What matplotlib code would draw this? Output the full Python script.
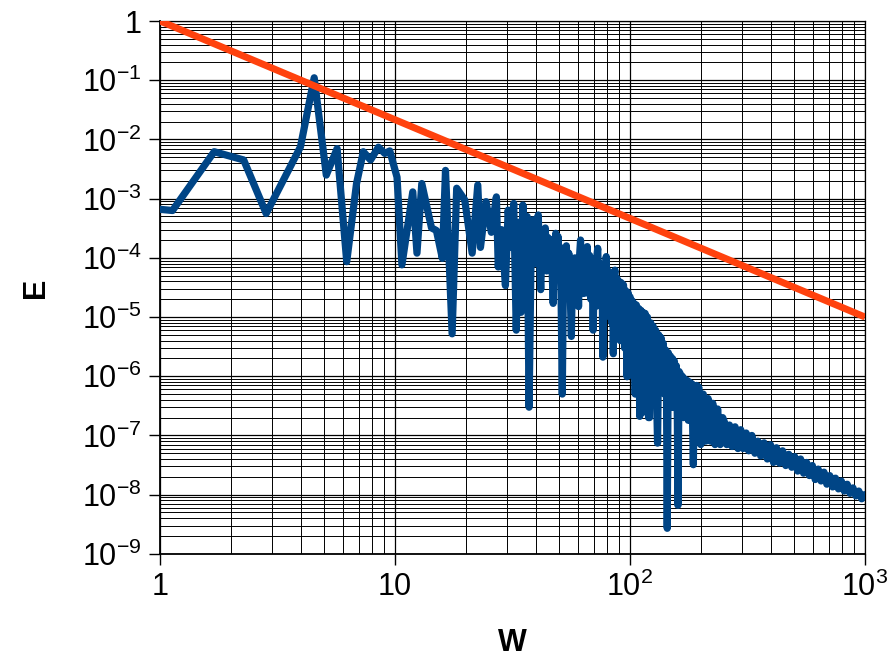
import numpy as np
import matplotlib
matplotlib.use('Agg')
import matplotlib.pyplot as plt
from matplotlib.ticker import FixedLocator, LogLocator, NullFormatter

plt.rcParams['font.family'] = ['Liberation Sans', 'DejaVu Sans']
plt.rcParams['mathtext.fontset'] = 'custom'
plt.rcParams['mathtext.rm'] = 'Liberation Sans'

# spectrum (W, E)
w = [1.0, 1.13, 1.70, 2.27, 2.83, 3.96, 4.53, 5.10, 5.67, 6.23, 6.86, 7.33, 7.87, 8.5, 9.05, 9.5,
     10.2, 10.7, 11.9, 12.4, 13.0, 14.3, 15.0, 15.9, 16.4, 17.5, 18.3, 19.8, 21.3, 22.5, 23.1,
     24.4, 25.7, 27.0, 27.5, 28.4, 29.5, 30.3, 31.2, 32.0, 32.8, 33.6, 34.4, 35.0, 35.8, 36.5,
     37.2, 38.0, 38.7, 39.3, 40.0, 40.7, 41.2, 41.7, 42.3, 43.0, 43.6, 44.2, 44.8, 45.5, 46.2,
     47.1, 47.7, 48.3, 48.8, 49.4, 50.0, 50.6, 51.5, 52.2, 52.9, 53.6, 54.2, 54.9, 55.6, 56.3,
     57.0, 57.6, 58.3, 59.0, 59.7, 60.4, 61.1, 61.6, 62.3, 63.0, 63.7, 64.4, 65.1, 65.8, 66.5,
     67.3, 68.1, 68.9, 69.7, 70.5, 71.3, 72.1, 72.9, 73.7, 74.5, 75.3, 76.0, 76.7, 77.5, 78.3,
     79.2, 80.0, 80.9, 81.8, 82.7, 83.6, 84.5, 84.9, 85.6, 86.3, 87.2, 88.1, 89.0, 89.9, 90.8,
     91.8, 92.8, 93.8, 94.8, 95.8, 97.1, 98.0, 99.0, 100, 101, 102, 103, 104, 105.2, 106.4,
     107.6, 108.8, 110, 111.2, 112.4, 113.6, 114.8, 116, 117.3, 118.6, 119.9, 121, 122.5, 124,
     125.5, 127, 128.5, 130, 131, 132.5, 134, 135.5, 137, 138.6, 140, 141.5, 143, 144, 145.5,
     147, 148.5, 150, 151.5, 153, 154.5, 156, 157.5, 159, 160, 161.8, 163.6, 165.3, 167, 169,
     171, 173, 175, 177, 179, 181, 183, 184.5, 186, 188, 190, 192, 194, 196, 198, 200, 205,
     210, 215, 220, 225, 230, 236, 242, 248, 252, 258, 265, 272, 280, 288, 296, 303, 312, 320,
     330, 340, 350, 360, 372, 384, 396, 408, 420, 433, 446, 460, 474, 488, 502, 517, 532, 548,
     564, 580, 597, 614, 632, 650, 669, 688, 708, 728, 749, 771, 793, 816, 840, 864, 889, 915,
     941, 968, 995]
E = [6.6e-4, 6.3e-4, 6.2e-3, 4.5e-3, 5.6e-4, 7.5e-3, 1.1e-1, 2.5e-3, 7e-3, 8.6e-5, 1.8e-3, 6.2e-3,
     4.5e-3, 7.4e-3, 5.8e-3, 6.4e-3, 2.3e-3, 7.6e-5, 1.3e-3, 1.2e-4, 1.8e-3, 3.2e-4, 2.9e-4,
     9.8e-5, 3e-3, 5.2e-6, 1.5e-3, 9.5e-4, 1.2e-4, 1.7e-3, 1.5e-4, 8.9e-4, 2.7e-4, 1.07e-3,
     7e-5, 3e-4, 3.4e-5, 6.4e-4, 1.5e-4, 8.3e-4, 6e-6, 4e-4, 1.2e-5, 7.8e-4, 1.5e-4, 5e-4,
     3e-7, 2e-4, 4.4e-4, 8e-5, 3e-4, 5.3e-4, 1e-4, 2.9e-5, 2.5e-4, 1e-4, 3.2e-4, 6e-5, 2.2e-4,
     8e-5, 2e-4, 1.7e-5, 1.2e-4, 2.6e-4, 6e-5, 2.3e-4, 5e-5, 1.5e-4, 5e-7, 1e-4, 4e-5, 1.6e-4,
     3e-5, 1.2e-4, 3e-5, 4.7e-6, 8e-5, 4e-5, 1e-4, 2.5e-5, 9e-5, 1.5e-5, 1.2e-4, 2e-4, 2.5e-5,
     1.3e-4, 2.5e-5, 1.1e-4, 3e-5, 1.55e-4, 2.5e-5, 1.1e-4, 2e-5, 9e-5, 6e-6, 7e-5, 1.5e-5,
     1e-4, 1.45e-4, 2e-5, 8e-5, 1.5e-5, 6e-5, 2.1e-6, 6e-5, 1.5e-5, 1.05e-4, 1.2e-5, 6e-5,
     1e-5, 5e-5, 8e-6, 4e-5, 2.4e-6, 5e-5, 6.2e-5, 6e-6, 4.5e-5, 5e-6, 4e-5, 4e-6, 3.8e-5,
     5e-6, 3.5e-5, 3e-6, 2.8e-5, 9.8e-7, 2.6e-5, 3e-6, 2.2e-5, 2e-6, 1.9e-5, 1e-6, 1.7e-5,
     5e-7, 1.6e-5, 5e-7, 1.4e-5, 2.1e-7, 1.3e-5, 3e-7, 1.2e-5, 2.5e-7, 1.15e-5, 3e-7, 1e-5,
     2e-7, 2e-7, 8e-6, 1e-6, 7e-6, 8e-7, 6e-6, 3e-7, 7.4e-8, 5e-6, 8e-7, 4.5e-6, 6e-7, 3.6e-6,
     5e-7, 2.8e-6, 5e-7, 2.7e-9, 2.5e-6, 3e-7, 2.2e-6, 3e-7, 2e-6, 3e-7, 1.8e-6, 3e-7, 1.5e-6,
     2e-7, 6.6e-9, 1.2e-6, 1.1e-6, 2e-7, 1e-6, 2e-7, 9e-7, 2e-7, 8.5e-7, 1.8e-7, 8e-7, 1.8e-7,
     7.5e-7, 2e-7, 3.2e-8, 7e-7, 1.6e-7, 7e-7, 1.5e-7, 6.6e-7, 1.2e-7, 7e-8, 5e-7, 8e-8,
     4.2e-7, 8e-8, 3.5e-7, 7e-8, 2.8e-7, 7e-8, 2e-7, 1.7e-7, 7e-8, 1.5e-7, 6.5e-8, 1.4e-7,
     6e-8, 1.25e-7, 6e-8, 1.1e-7, 5.5e-8, 1e-7, 5e-8, 8e-8, 4.5e-8, 7.5e-8, 4e-8, 7e-8, 3.5e-8,
     6.2e-8, 3.4e-8, 5.5e-8, 3.1e-8, 4.8e-8, 2.9e-8, 4.4e-8, 2.5e-8, 4e-8, 2.3e-8, 3.5e-8,
     2.1e-8, 3.1e-8, 1.8e-8, 2.7e-8, 1.7e-8, 2.4e-8, 1.5e-8, 2.1e-8, 1.35e-8, 1.9e-8, 1.25e-8,
     1.7e-8, 1.15e-8, 1.5e-8, 1.05e-8, 1.3e-8, 9.5e-9, 1.15e-8, 8.5e-9, 1e-8]

# reference slope line
w_ref = [1, 1000]
E_ref = [1, 1e-5]

xticks = [1, 10, 100, 1000]
xlabels = ['1', '10', r'$\mathregular{10^2}$', r'$\mathregular{10^3}$']
yticks = [1, 1e-1, 1e-2, 1e-3, 1e-4, 1e-5, 1e-6, 1e-7, 1e-8, 1e-9]
ylabels = ['1'] + [r'$\mathregular{10^{-%d}}$' % i for i in range(1, 10)]

fig = plt.figure(figsize=(8.89, 6.57), dpi=100)
ax = fig.add_axes([0.18, 0.157, 0.793, 0.811])

ax.plot(w, E, color='#004586', lw=5.2, solid_capstyle='round', solid_joinstyle='round', zorder=3)
ax.plot(w_ref, E_ref, color='#ff420e', lw=5.0, solid_capstyle='butt', zorder=4)

ax.set_xscale('log')
ax.set_yscale('log')
ax.set_xlim(1, 1000)
ax.set_ylim(1e-9, 1)

ax.xaxis.set_major_locator(FixedLocator(xticks))
ax.set_xticklabels(xlabels)
ax.yaxis.set_major_locator(FixedLocator(yticks))
ax.set_yticklabels(ylabels)
ax.xaxis.set_minor_locator(LogLocator(base=10, subs=np.arange(2, 10)))
ax.yaxis.set_minor_locator(LogLocator(base=10, subs=np.arange(2, 10), numticks=20))
ax.xaxis.set_minor_formatter(NullFormatter())
ax.yaxis.set_minor_formatter(NullFormatter())

ax.grid(True, which='major', color='black', lw=0.9)
ax.grid(True, which='minor', color='black', lw=0.7)
ax.set_axisbelow(True)

ax.tick_params(which='major', direction='out', length=8, width=1, labelsize=22, pad=5)
ax.tick_params(which='minor', length=0)
for s in ax.spines.values():
    s.set_linewidth(0.9)
ax.spines['left'].set_linewidth(1.3)
ax.spines['bottom'].set_linewidth(1.3)

ax.set_xlabel('W', fontsize=22, fontweight='bold', labelpad=18)
ax.set_ylabel('E', fontsize=22, fontweight='bold', labelpad=22)

plt.savefig('out.png', dpi=100)
